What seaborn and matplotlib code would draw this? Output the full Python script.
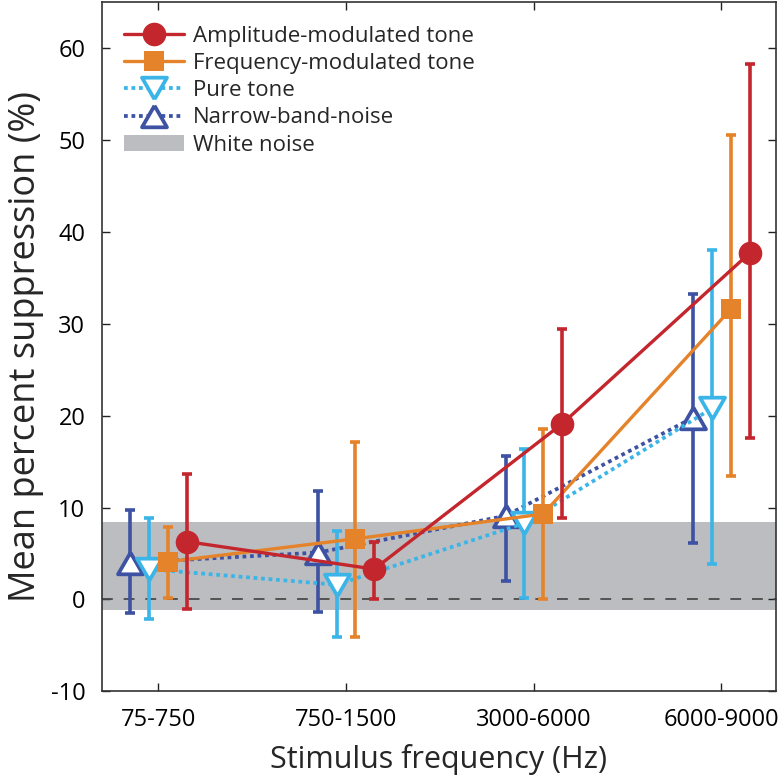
import numpy as np
import pandas as pd
import matplotlib
matplotlib.use('Agg')
import matplotlib.pyplot as plt
import seaborn as sns
from matplotlib.lines import Line2D
from matplotlib.patches import Patch

## data
categories = ['75-750', '750-1500', '3000-6000', '6000-9000']

am_mean = [6.3, 3.3, 19.1, 37.7]
am_hi = [13.7, 6.3, 29.4, 58.3]
am_lo = [-1.0, 0.0, 8.9, 17.6]

fm_mean = [4.1, 6.6, 9.3, 31.6]
fm_hi = [7.9, 17.1, 18.6, 50.6]
fm_lo = [0.2, -4.1, 0.0, 13.4]

pt_mean = [3.3, 1.6, 8.3, 20.8]
pt_hi = [8.9, 7.5, 16.4, 38.0]
pt_lo = [-2.1, -4.1, 0.2, 3.9]

nb_mean = [4.0, 5.1, 9.1, 19.8]
nb_hi = [9.7, 11.8, 15.6, 33.2]
nb_lo = [-1.5, -1.4, 2.0, 6.1]

white_noise = (-1.2, 8.4)

## style
sns.set_style('ticks')
plt.rcParams['font.family'] = ['Open Sans', 'DejaVu Sans']
plt.rcParams['axes.unicode_minus'] = False

tri_up = [(0, 0.866), (-1, -0.866), (1, -0.866), (0, 0.866)]
tri_dn = [(0, -0.866), (-1, 0.866), (1, 0.866), (0, -0.866)]

series = [
    # name, mean, hi, lo, color, marker, ls, offset, zorder
    ('Narrow-band-noise', nb_mean, nb_hi, nb_lo, '#3d52a3', tri_up, (0, (1, 1)), -0.15, 3),
    ('Pure tone', pt_mean, pt_hi, pt_lo, '#3bb4e8', tri_dn, (0, (1, 1)), -0.05, 4),
    ('Frequency-modulated tone', fm_mean, fm_hi, fm_lo, '#e5832a', 's', '-', 0.05, 5),
    ('Amplitude-modulated tone', am_mean, am_hi, am_lo, '#c4262e', 'o', '-', 0.15, 6),
]

fig = plt.figure(figsize=(7.79, 7.82), dpi=100)
ax = fig.add_axes([0.131, 0.116, 0.865, 0.881])

ax.axhspan(white_noise[0], white_noise[1], color='#bcbdc0', lw=0, zorder=0)
ax.axhline(0, color='#4a4a4a', lw=1.3, ls=(0, (6, 6)), zorder=1)

handles = {}
xbase = np.arange(len(categories))
for name, m, hi, lo, col, mk, ls, off, z in series:
    xs = xbase + off
    m = np.array(m)
    yerr = [m - np.array(lo), np.array(hi) - m]
    ax.errorbar(xs, m, yerr=yerr, fmt='none', ecolor=col, elinewidth=2.6,
                capsize=3.8, capthick=2.6, zorder=z)
    df = pd.DataFrame({'x': xs, 'y': m})
    if mk in ('o', 's'):
        kw = dict(marker=mk, markersize=17 if mk == 'o' else 15,
                  markerfacecolor=col, markeredgecolor=col, markeredgewidth=0)
    else:
        kw = dict(marker=mk, markersize=18, markerfacecolor='white',
                  markeredgecolor=col, markeredgewidth=2.7)
    sns.lineplot(data=df, x='x', y='y', ax=ax, color=col, lw=2.4 if ls == '-' else 2.7,
                 linestyle=ls, zorder=z + 0.5, sort=False, **kw)
    handles[name] = Line2D([], [], color=col, lw=2.4 if ls == '-' else 2.7,
                           linestyle=ls, **kw)

order = ['Amplitude-modulated tone', 'Frequency-modulated tone', 'Pure tone',
         'Narrow-band-noise']
hl = [handles[n] for n in order] + [Patch(color='#bcbdc0', lw=0)]
ax.legend(hl, order + ['White noise'], loc='upper left', bbox_to_anchor=(0.033, 0.966),
          frameon=False, fontsize=16, handlelength=2.7, handletextpad=0.4,
          labelspacing=0.28, borderpad=0, borderaxespad=0)

ax.set_xlim(-0.3, 3.29)
ax.set_ylim(-10, 65)
ax.set_xticks(xbase)
ax.set_xticklabels(categories)
ax.set_yticks(np.arange(-10, 61, 10))
ax.tick_params(direction='in', length=6, width=1, top=True, right=True,
               labelsize=17, pad=12, colors='#222222', labelcolor='black')
for s in ax.spines.values():
    s.set_linewidth(1.2)
    s.set_color('#333333')

ax.set_xlabel('Stimulus frequency (Hz)', fontsize=22, labelpad=9)
ax.set_ylabel('Mean percent suppression (%)', fontsize=26, labelpad=5)

fig.savefig('out.png', dpi=100)
